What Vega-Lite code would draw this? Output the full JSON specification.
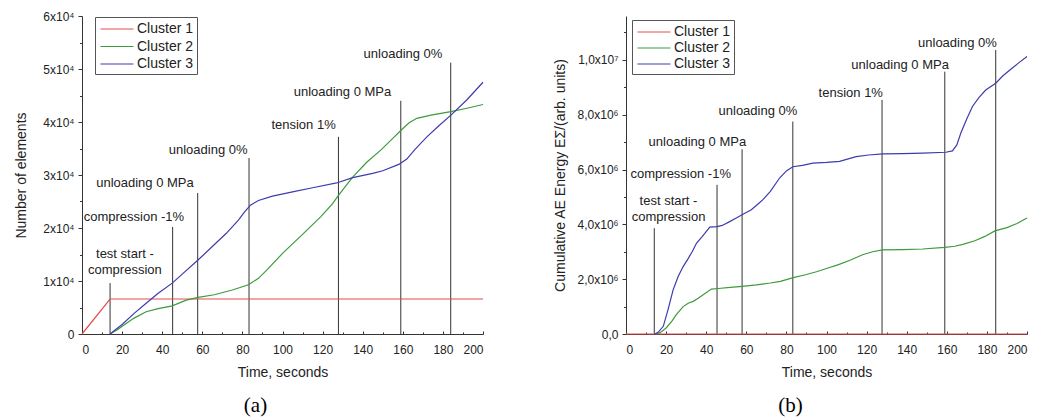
{
  "$schema": "https://vega.github.io/schema/vega-lite/v6.json",
  "background": "white",
  "padding": {"left": 14, "top": 10, "right": 5, "bottom": 5},
  "bounds": "flush",
  "spacing": 143,
  "config": {
    "font": "Liberation Sans",
    "view": {"stroke": null},
    "axis": {"grid": false, "domainColor": "#333", "tickColor": "#333", "labelColor": "#222", "titleColor": "#222", "labelFont": "Liberation Sans", "titleFont": "Liberation Sans", "labelFontSize": 12, "titleFontSize": 14, "titleFontWeight": "normal"},
    "legend": {"labelFont": "Liberation Sans", "labelFontSize": 14, "labelColor": "#222"},
    "text": {"font": "Liberation Sans"}
  },
  "datasets": {
    "a": [
      {"t": 0, "v": 0, "series": "Cluster 1"},
      {"t": 14, "v": 6600, "series": "Cluster 1"},
      {"t": 200, "v": 6600, "series": "Cluster 1"},
      {"t": 14, "v": 0, "series": "Cluster 2"},
      {"t": 18, "v": 900, "series": "Cluster 2"},
      {"t": 22, "v": 2000, "series": "Cluster 2"},
      {"t": 26, "v": 3000, "series": "Cluster 2"},
      {"t": 32, "v": 4200, "series": "Cluster 2"},
      {"t": 38, "v": 4800, "series": "Cluster 2"},
      {"t": 45, "v": 5300, "series": "Cluster 2"},
      {"t": 52, "v": 6400, "series": "Cluster 2"},
      {"t": 58, "v": 6900, "series": "Cluster 2"},
      {"t": 66, "v": 7400, "series": "Cluster 2"},
      {"t": 75, "v": 8300, "series": "Cluster 2"},
      {"t": 83, "v": 9300, "series": "Cluster 2"},
      {"t": 88, "v": 10500, "series": "Cluster 2"},
      {"t": 92, "v": 12000, "series": "Cluster 2"},
      {"t": 100, "v": 15200, "series": "Cluster 2"},
      {"t": 110, "v": 18800, "series": "Cluster 2"},
      {"t": 119, "v": 22100, "series": "Cluster 2"},
      {"t": 125, "v": 24600, "series": "Cluster 2"},
      {"t": 128, "v": 26200, "series": "Cluster 2"},
      {"t": 135, "v": 29600, "series": "Cluster 2"},
      {"t": 142, "v": 32400, "series": "Cluster 2"},
      {"t": 149, "v": 34700, "series": "Cluster 2"},
      {"t": 155, "v": 36900, "series": "Cluster 2"},
      {"t": 159, "v": 38400, "series": "Cluster 2"},
      {"t": 163, "v": 39800, "series": "Cluster 2"},
      {"t": 167, "v": 40700, "series": "Cluster 2"},
      {"t": 174, "v": 41300, "series": "Cluster 2"},
      {"t": 184, "v": 41950, "series": "Cluster 2"},
      {"t": 192, "v": 42600, "series": "Cluster 2"},
      {"t": 200, "v": 43300, "series": "Cluster 2"},
      {"t": 14, "v": 0, "series": "Cluster 3"},
      {"t": 20, "v": 1800, "series": "Cluster 3"},
      {"t": 26, "v": 3900, "series": "Cluster 3"},
      {"t": 32, "v": 5800, "series": "Cluster 3"},
      {"t": 38, "v": 7700, "series": "Cluster 3"},
      {"t": 45, "v": 9600, "series": "Cluster 3"},
      {"t": 50, "v": 11300, "series": "Cluster 3"},
      {"t": 58, "v": 14000, "series": "Cluster 3"},
      {"t": 65, "v": 16500, "series": "Cluster 3"},
      {"t": 72, "v": 19000, "series": "Cluster 3"},
      {"t": 78, "v": 21500, "series": "Cluster 3"},
      {"t": 81, "v": 23000, "series": "Cluster 3"},
      {"t": 84, "v": 24300, "series": "Cluster 3"},
      {"t": 88, "v": 25200, "series": "Cluster 3"},
      {"t": 95, "v": 26000, "series": "Cluster 3"},
      {"t": 105, "v": 26800, "series": "Cluster 3"},
      {"t": 115, "v": 27600, "series": "Cluster 3"},
      {"t": 127, "v": 28500, "series": "Cluster 3"},
      {"t": 135, "v": 29500, "series": "Cluster 3"},
      {"t": 145, "v": 30300, "series": "Cluster 3"},
      {"t": 150, "v": 30800, "series": "Cluster 3"},
      {"t": 158, "v": 32000, "series": "Cluster 3"},
      {"t": 162, "v": 33000, "series": "Cluster 3"},
      {"t": 166, "v": 34800, "series": "Cluster 3"},
      {"t": 172, "v": 37200, "series": "Cluster 3"},
      {"t": 178, "v": 39300, "series": "Cluster 3"},
      {"t": 184, "v": 41300, "series": "Cluster 3"},
      {"t": 192, "v": 44200, "series": "Cluster 3"},
      {"t": 200, "v": 47500, "series": "Cluster 3"}
    ],
    "b": [
      {"t": 0, "v": 0, "series": "Cluster 1"},
      {"t": 200, "v": 0, "series": "Cluster 1"},
      {"t": 14.4, "v": 0, "series": "Cluster 2"},
      {"t": 17, "v": 50000, "series": "Cluster 2"},
      {"t": 20, "v": 220000, "series": "Cluster 2"},
      {"t": 23, "v": 480000, "series": "Cluster 2"},
      {"t": 25, "v": 700000, "series": "Cluster 2"},
      {"t": 28.5, "v": 1000000, "series": "Cluster 2"},
      {"t": 31, "v": 1120000, "series": "Cluster 2"},
      {"t": 33.5, "v": 1190000, "series": "Cluster 2"},
      {"t": 36, "v": 1300000, "series": "Cluster 2"},
      {"t": 38.5, "v": 1430000, "series": "Cluster 2"},
      {"t": 42.6, "v": 1640000, "series": "Cluster 2"},
      {"t": 46, "v": 1660000, "series": "Cluster 2"},
      {"t": 52, "v": 1700000, "series": "Cluster 2"},
      {"t": 58, "v": 1740000, "series": "Cluster 2"},
      {"t": 65, "v": 1790000, "series": "Cluster 2"},
      {"t": 72, "v": 1860000, "series": "Cluster 2"},
      {"t": 77, "v": 1920000, "series": "Cluster 2"},
      {"t": 83, "v": 2050000, "series": "Cluster 2"},
      {"t": 90, "v": 2170000, "series": "Cluster 2"},
      {"t": 95, "v": 2270000, "series": "Cluster 2"},
      {"t": 100, "v": 2390000, "series": "Cluster 2"},
      {"t": 106, "v": 2530000, "series": "Cluster 2"},
      {"t": 112, "v": 2700000, "series": "Cluster 2"},
      {"t": 118, "v": 2890000, "series": "Cluster 2"},
      {"t": 123, "v": 3000000, "series": "Cluster 2"},
      {"t": 128, "v": 3070000, "series": "Cluster 2"},
      {"t": 138, "v": 3080000, "series": "Cluster 2"},
      {"t": 148, "v": 3100000, "series": "Cluster 2"},
      {"t": 159, "v": 3160000, "series": "Cluster 2"},
      {"t": 164, "v": 3200000, "series": "Cluster 2"},
      {"t": 168, "v": 3270000, "series": "Cluster 2"},
      {"t": 174, "v": 3400000, "series": "Cluster 2"},
      {"t": 179, "v": 3560000, "series": "Cluster 2"},
      {"t": 184, "v": 3760000, "series": "Cluster 2"},
      {"t": 190, "v": 3880000, "series": "Cluster 2"},
      {"t": 195, "v": 4030000, "series": "Cluster 2"},
      {"t": 200, "v": 4230000, "series": "Cluster 2"},
      {"t": 14.4, "v": 0, "series": "Cluster 3"},
      {"t": 16, "v": 60000, "series": "Cluster 3"},
      {"t": 18.6, "v": 280000, "series": "Cluster 3"},
      {"t": 21, "v": 900000, "series": "Cluster 3"},
      {"t": 23.5, "v": 1610000, "series": "Cluster 3"},
      {"t": 26, "v": 2100000, "series": "Cluster 3"},
      {"t": 28.5, "v": 2460000, "series": "Cluster 3"},
      {"t": 31, "v": 2750000, "series": "Cluster 3"},
      {"t": 33, "v": 3000000, "series": "Cluster 3"},
      {"t": 35.2, "v": 3320000, "series": "Cluster 3"},
      {"t": 38, "v": 3550000, "series": "Cluster 3"},
      {"t": 41.8, "v": 3900000, "series": "Cluster 3"},
      {"t": 45.4, "v": 3920000, "series": "Cluster 3"},
      {"t": 48, "v": 3960000, "series": "Cluster 3"},
      {"t": 51.7, "v": 4100000, "series": "Cluster 3"},
      {"t": 55, "v": 4230000, "series": "Cluster 3"},
      {"t": 57.9, "v": 4350000, "series": "Cluster 3"},
      {"t": 62.5, "v": 4530000, "series": "Cluster 3"},
      {"t": 66, "v": 4750000, "series": "Cluster 3"},
      {"t": 68.3, "v": 4900000, "series": "Cluster 3"},
      {"t": 72, "v": 5200000, "series": "Cluster 3"},
      {"t": 76.6, "v": 5690000, "series": "Cluster 3"},
      {"t": 80, "v": 5950000, "series": "Cluster 3"},
      {"t": 83.2, "v": 6100000, "series": "Cluster 3"},
      {"t": 88, "v": 6150000, "series": "Cluster 3"},
      {"t": 93.2, "v": 6230000, "series": "Cluster 3"},
      {"t": 100, "v": 6260000, "series": "Cluster 3"},
      {"t": 106.5, "v": 6300000, "series": "Cluster 3"},
      {"t": 114.8, "v": 6470000, "series": "Cluster 3"},
      {"t": 121, "v": 6530000, "series": "Cluster 3"},
      {"t": 128, "v": 6570000, "series": "Cluster 3"},
      {"t": 138, "v": 6580000, "series": "Cluster 3"},
      {"t": 148, "v": 6600000, "series": "Cluster 3"},
      {"t": 159.5, "v": 6630000, "series": "Cluster 3"},
      {"t": 162.8, "v": 6680000, "series": "Cluster 3"},
      {"t": 165, "v": 6900000, "series": "Cluster 3"},
      {"t": 167, "v": 7330000, "series": "Cluster 3"},
      {"t": 170, "v": 7850000, "series": "Cluster 3"},
      {"t": 172.8, "v": 8300000, "series": "Cluster 3"},
      {"t": 176, "v": 8620000, "series": "Cluster 3"},
      {"t": 179.4, "v": 8900000, "series": "Cluster 3"},
      {"t": 184.4, "v": 9150000, "series": "Cluster 3"},
      {"t": 188, "v": 9420000, "series": "Cluster 3"},
      {"t": 192.7, "v": 9700000, "series": "Cluster 3"},
      {"t": 196, "v": 9900000, "series": "Cluster 3"},
      {"t": 200, "v": 10120000, "series": "Cluster 3"}
    ],
    "eventsA": [
      {"t": 14, "top": 9600, "label": "test start -\ncompression", "lx": 21.4, "ly": 15060},
      {"t": 45.2, "top": 20200, "label": "compression -1%", "lx": 25.9, "ly": 22130},
      {"t": 57.7, "top": 26600, "label": "unloading 0 MPa", "lx": 31.4, "ly": 28490},
      {"t": 83.3, "top": 33200, "label": "unloading 0%", "lx": 62.9, "ly": 34720},
      {"t": 127.9, "top": 37200, "label": "tension 1%", "lx": 110.5, "ly": 39430},
      {"t": 159, "top": 44000, "label": "unloading 0 MPa", "lx": 129.9, "ly": 45660},
      {"t": 183.9, "top": 51200, "label": "unloading 0%", "lx": 160.1, "ly": 52830}
    ],
    "eventsB": [
      {"t": 14.1, "top": 3860000, "label": "test start -\ncompression", "lx": 21.2, "ly": 4860000},
      {"t": 45.4, "top": 5440000, "label": "compression -1%", "lx": 27.3, "ly": 5840000},
      {"t": 57.9, "top": 6740000, "label": "unloading 0 MPa", "lx": 35.6, "ly": 7020000},
      {"t": 83.2, "top": 7750000, "label": "unloading 0%", "lx": 65.8, "ly": 8140000},
      {"t": 127.7, "top": 8540000, "label": "tension 1%", "lx": 112.1, "ly": 8790000},
      {"t": 159, "top": 9570000, "label": "unloading 0 MPa", "lx": 136.7, "ly": 9810000},
      {"t": 184.4, "top": 10360000, "label": "unloading 0%", "lx": 165.3, "ly": 10630000}
    ]
  },
  "hconcat": [
    {
      "width": 401,
      "height": 318,
      "title": {"text": "(a)", "orient": "bottom", "font": "Liberation Serif", "fontSize": 21, "fontWeight": "normal", "color": "#000", "offset": 16, "dx": -27},
      "resolve": {"axis": {"x": "independent", "y": "independent"}},
      "layer": [
        {
          "data": {"name": "eventsA"},
          "mark": {"type": "rule", "color": "#333", "strokeWidth": 1},
          "encoding": {
            "x": {"field": "t", "type": "quantitative", "scale": {"domain": [0, 200], "nice": false},
              "axis": {"orient": "bottom", "title": null, "labels": false, "domain": false, "values": [10, 30, 50, 70, 90, 110, 130, 150, 170, 190], "tickSize": -2}},
            "y": {"field": "top", "type": "quantitative", "scale": {"domain": [0, 60000], "nice": false},
              "axis": {"orient": "left", "title": null, "labels": false, "domain": false, "values": [5000, 15000, 25000, 35000, 45000, 55000], "tickSize": 2.5}},
            "y2": {"datum": 0}
          }
        },
        {
          "data": {"name": "eventsA"},
          "mark": {"type": "text", "fontSize": 13, "color": "#222", "align": "center", "baseline": "middle", "lineBreak": "\n", "lineHeight": 16},
          "encoding": {
            "x": {"field": "lx", "type": "quantitative", "axis": null},
            "y": {"field": "ly", "type": "quantitative", "axis": null},
            "text": {"field": "label", "type": "nominal"}
          }
        },
        {
          "data": {"name": "a"},
          "mark": {"type": "line", "strokeWidth": 1.2},
          "encoding": {
            "x": {"field": "t", "type": "quantitative", "title": "Time, seconds",
              "axis": {"values": [0, 20, 40, 60, 80, 100, 120, 140, 160, 180, 200], "tickSize": -3, "labelPadding": 13, "titlePadding": 10, "orient": "bottom"}},
            "y": {"field": "v", "type": "quantitative", "title": "Number of elements",
              "axis": {"values": [0, 10000, 20000, 30000, 40000, 50000, 60000], "tickSize": 4, "labelPadding": 4, "titlePadding": 14, "orient": "left",
                "labelExpr": "datum.value == 0 ? '0' : (datum.value / 10000) + 'x10⁴'"}},
            "color": {"field": "series", "type": "nominal",
              "scale": {"domain": ["Cluster 1", "Cluster 2", "Cluster 3"], "range": ["#e64c4c", "#3d9a3d", "#3c3caf"]},
              "legend": {"title": null, "orient": "none", "legendX": 13, "legendY": 1, "strokeColor": "#555", "padding": 3, "symbolType": "M-2,0H2", "symbolSize": 272, "symbolStrokeWidth": 1, "symbolOffset": 10, "rowPadding": 1.5, "labelOffset": 11, "fillColor": "white"}},
            "order": {"field": "t", "type": "quantitative"}
          }
        }
      ]
    },
    {
      "width": 401,
      "height": 318,
      "title": {"text": "(b)", "orient": "bottom", "font": "Liberation Serif", "fontSize": 21, "fontWeight": "normal", "color": "#000", "offset": 16, "dx": -36},
      "resolve": {"axis": {"x": "independent", "y": "independent"}},
      "layer": [
        {
          "data": {"name": "eventsB"},
          "mark": {"type": "rule", "color": "#333", "strokeWidth": 1},
          "encoding": {
            "x": {"field": "t", "type": "quantitative", "scale": {"domain": [0, 200], "nice": false},
              "axis": {"orient": "bottom", "title": null, "labels": false, "domain": false, "values": [10, 30, 50, 70, 90, 110, 130, 150, 170, 190], "tickSize": -2}},
            "y": {"field": "top", "type": "quantitative", "scale": {"domain": [0, 11600000], "nice": false},
              "axis": {"orient": "left", "title": null, "labels": false, "domain": false, "values": [1000000, 3000000, 5000000, 7000000, 9000000, 11000000], "tickSize": 2.5}},
            "y2": {"datum": 0}
          }
        },
        {
          "data": {"name": "eventsB"},
          "mark": {"type": "text", "fontSize": 13, "color": "#222", "align": "center", "baseline": "middle", "lineBreak": "\n", "lineHeight": 16},
          "encoding": {
            "x": {"field": "lx", "type": "quantitative", "axis": null},
            "y": {"field": "ly", "type": "quantitative", "axis": null},
            "text": {"field": "label", "type": "nominal"}
          }
        },
        {
          "data": {"name": "b"},
          "mark": {"type": "line", "strokeWidth": 1.2},
          "encoding": {
            "x": {"field": "t", "type": "quantitative", "title": "Time, seconds",
              "axis": {"values": [0, 20, 40, 60, 80, 100, 120, 140, 160, 180, 200], "tickSize": -3, "labelPadding": 13, "titlePadding": 10, "orient": "bottom"}},
            "y": {"field": "v", "type": "quantitative", "title": "Cumulative AE Energy EΣ/(arb. units)",
              "axis": {"values": [0, 2000000, 4000000, 6000000, 8000000, 10000000], "tickSize": 4, "labelPadding": 4, "titlePadding": 10, "orient": "left",
                "labelExpr": "datum.value == 0 ? '0,0' : (datum.value >= 10000000 ? replace(format(datum.value / 10000000, '.1f'), '.', ',') + 'x10⁷' : replace(format(datum.value / 1000000, '.1f'), '.', ',') + 'x10⁶')"}},
            "color": {"field": "series", "type": "nominal",
              "scale": {"domain": ["Cluster 1", "Cluster 2", "Cluster 3"], "range": ["#e64c4c", "#3d9a3d", "#3c3caf"]},
              "legend": {"title": null, "orient": "none", "legendX": 6, "legendY": 4, "strokeColor": "#555", "padding": 3, "symbolType": "M-2,0H2", "symbolSize": 272, "symbolStrokeWidth": 1, "symbolOffset": 10, "rowPadding": 0, "labelOffset": 11, "fillColor": "white"}},
            "order": {"field": "t", "type": "quantitative"}
          }
        }
      ]
    }
  ],
  "resolve": {"scale": {"color": "independent"}}
}
